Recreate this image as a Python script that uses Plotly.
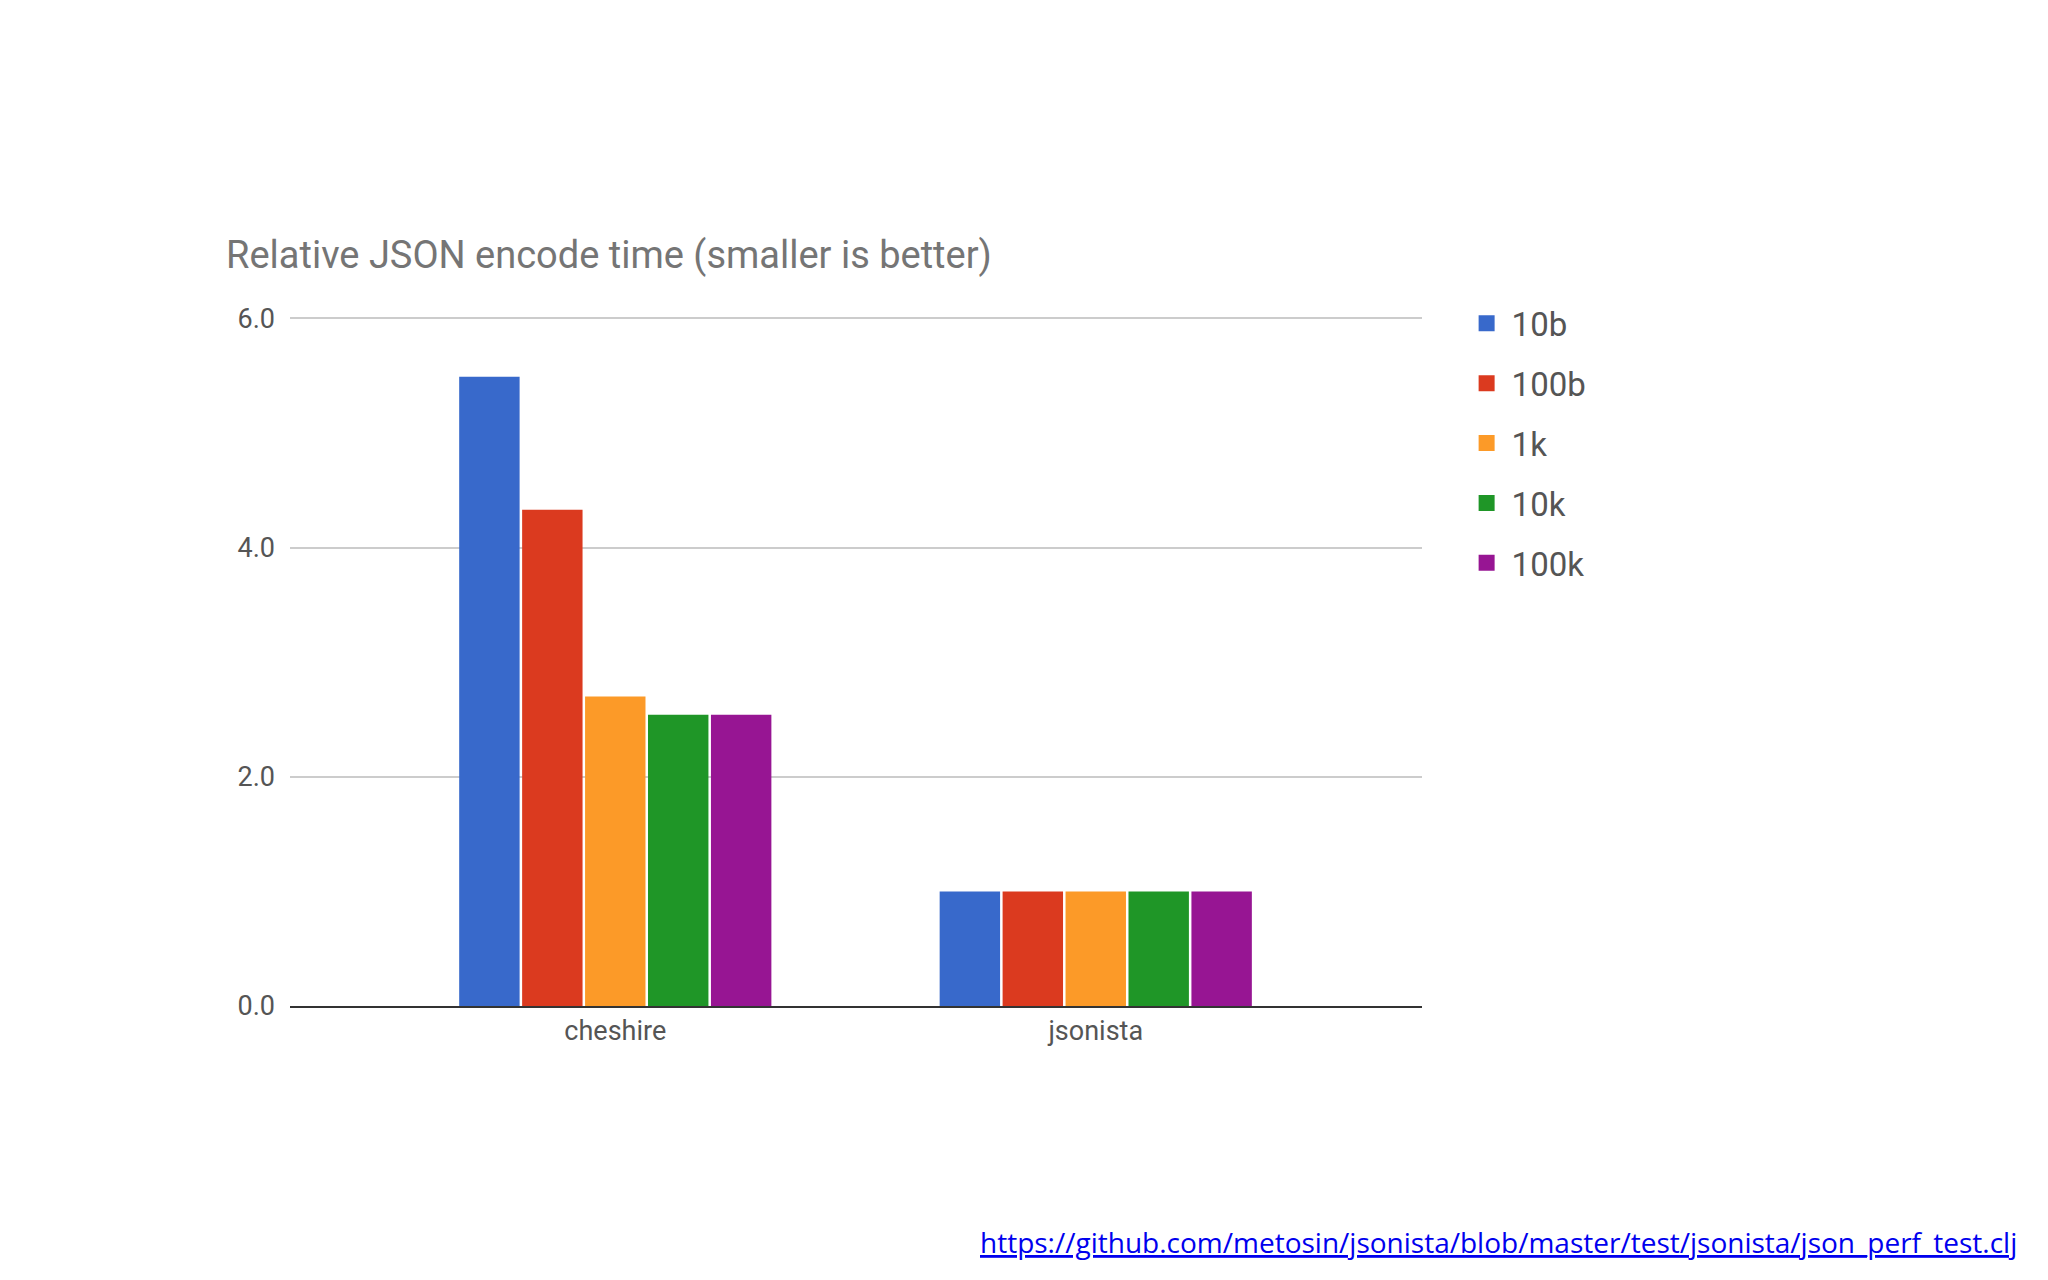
import plotly.graph_objects as go

categories = ["cheshire", "jsonista"]
series_names = ["10b", "100b", "1k", "10k", "100k"]
series_values = [
    [5.49, 1.0],
    [4.33, 1.0],
    [2.70, 1.0],
    [2.54, 1.0],
    [2.54, 1.0],
]
colors = ["#3869CB", "#DB3A1F", "#FC9A28", "#1F9627", "#971593"]
tick_vals = [0, 2, 4, 6]
tick_text = ["0.0", "2.0", "4.0", "6.0"]

fig = go.Figure()
for i, (name, vals, c) in enumerate(zip(series_names, series_values, colors)):
    fig.add_trace(go.Bar(x=categories, y=vals, name=name, marker_color=c,
                         marker_line_width=0, showlegend=False))
    fig.add_trace(go.Scatter(x=[None], y=[None], mode="markers", name=name,
                             legendgroup=f"g{i}",
                             marker=dict(symbol="square", size=28, color=c)))

fig.update_layout(
    width=2048, height=1280,
    plot_bgcolor="white", paper_bgcolor="white",
    font=dict(family="Roboto", color="#666666"),
    margin=dict(l=282, r=634, t=308, b=282),
    barmode="group", bargap=0.345, bargroupgap=0.04,
    title=dict(text="Relative JSON encode time (smaller is better)",
               x=218/2048, xanchor="left", y=1-247/1280, yanchor="middle",
               font=dict(size=38, color="#757575")),
    legend=dict(x=1.035, xanchor="left", y=1.03, yanchor="top",
                font=dict(size=33, color="#555555"), itemwidth=40,
                itemsizing="trace", tracegroupgap=14),
    xaxis=dict(range=[-0.677, 1.679], tickfont=dict(size=27, color="#555555"),
               showline=True, linecolor="#333333", linewidth=2, ticks=""),
    yaxis=dict(range=[0, 6.02], tickvals=tick_vals, ticktext=tick_text,
               tickfont=dict(size=27, color="#555555"), gridcolor="#CCCCCC",
               gridwidth=2, zeroline=False, ticklabelstandoff=14),
    annotations=[dict(
        text='<a href="https://github.com/metosin/jsonista/blob/master/test/jsonista/json_perf_test.clj" style="color:#0000EE"><u>https://github.com/metosin/jsonista/blob/master/test/jsonista/json_perf_test.clj</u></a>',
        xref="paper", yref="paper", x=(2011-282)/(2048-282-634), xanchor="right",
        y=-(1234-998)/(998-308), yanchor="middle", showarrow=False,
        font=dict(family="Open Sans", size=28, color="#0000EE"))],
)
fig.write_html("out.html")
